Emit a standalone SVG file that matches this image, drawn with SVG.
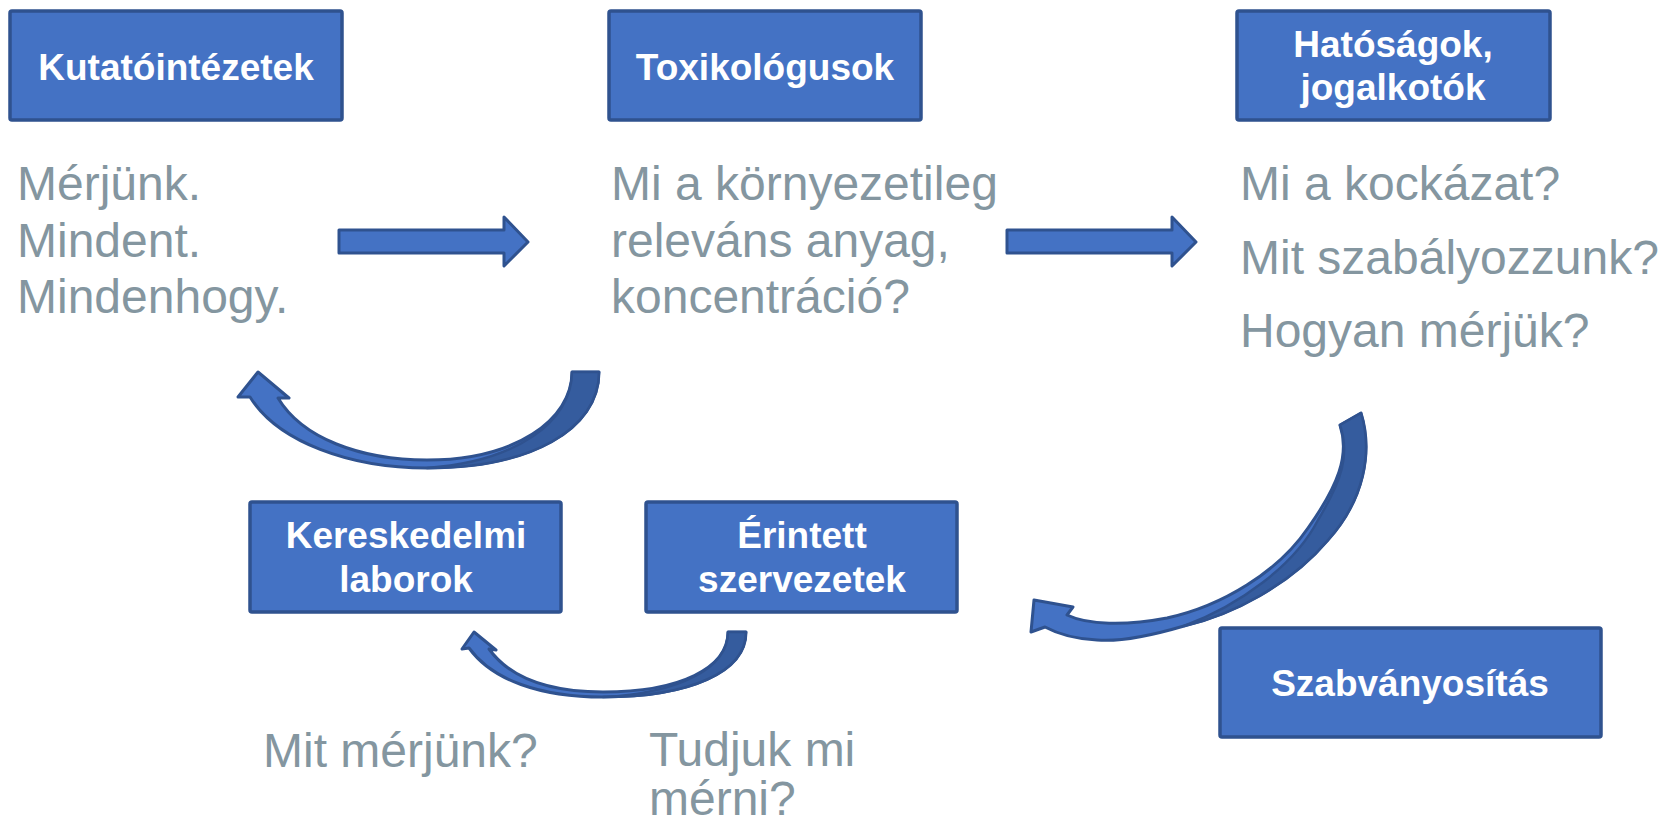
<svg xmlns="http://www.w3.org/2000/svg" width="1661" height="827" viewBox="0 0 1661 827">
<style>
.box{fill:#4472C4;stroke:#2F528F;stroke-width:3.5}
.lbl{font-family:"Liberation Sans",Arial,sans-serif;font-weight:bold;font-size:37px;fill:#FFFFFF;text-anchor:middle}
.q{font-family:"Liberation Sans",Arial,sans-serif;font-size:48px;fill:#8496A0}
.arr{fill:#4472C4;stroke:#2F528F;stroke-width:3;stroke-linejoin:round}
.shade{fill:#355C9E;stroke:#2F528F;stroke-width:2.5;stroke-linejoin:round}
</style>
<rect width="1661" height="827" fill="#FFFFFF"/>
<g id="kutatointezetek">
<rect class="box" x="10" y="11" width="332" height="109" rx="2"/>
<text class="lbl" x="176" y="80">Kutatóintézetek</text>
</g>
<g id="toxikologusok">
<rect class="box" x="609" y="11" width="312" height="109" rx="2"/>
<text class="lbl" x="765" y="80">Toxikológusok</text>
</g>
<g id="hatosagok">
<rect class="box" x="1237" y="11" width="313" height="109" rx="2"/>
<text class="lbl" x="1393" y="57">Hatóságok,</text>
<text class="lbl" x="1393" y="100">jogalkotók</text>
</g>
<g id="kereskedelmi">
<rect class="box" x="250" y="502" width="311" height="110" rx="2"/>
<text class="lbl" x="406" y="548">Kereskedelmi</text>
<text class="lbl" x="406" y="592">laborok</text>
</g>
<g id="erintett">
<rect class="box" x="646" y="502" width="311" height="110" rx="2"/>
<text class="lbl" x="802" y="548">Érintett</text>
<text class="lbl" x="802" y="592">szervezetek</text>
</g>
<g id="szabvanyositas">
<rect class="box" x="1220" y="628" width="381" height="109" rx="2"/>
<text class="lbl" x="1410" y="696">Szabványosítás</text>
</g>
<g id="texts">
<text class="q" x="17" y="200">Mérjünk.</text>
<text class="q" x="17" y="257">Mindent.</text>
<text class="q" x="17" y="313">Mindenhogy.</text>
<text class="q" x="611" y="200">Mi a környezetileg</text>
<text class="q" x="611" y="257">releváns anyag,</text>
<text class="q" x="611" y="313">koncentráció?</text>
<text class="q" x="1240" y="200">Mi a kockázat?</text>
<text class="q" x="1240" y="274">Mit szabályozzunk?</text>
<text class="q" x="1240" y="347">Hogyan mérjük?</text>
<text class="q" x="263" y="767">Mit mérjünk?</text>
<text class="q" x="649" y="766">Tudjuk mi</text>
<text class="q" x="649" y="815">mérni?</text>
</g>
<g id="connectors">
<path class="arr" d="M339,230 L504,230 L504,217 L528,242 L504,266 L504,253 L339,253 Z"/>
<path class="arr" d="M1007,230 L1172,230 L1172,217 L1196,242 L1172,266 L1172,253 L1007,253 Z"/>
<path class="arr" d="M572,372 L599,372 C599,430 530,468 427,468 C350,468 278,442 250,397 L238,397 L258,372 L289,398 L278,398 C302,438 360,460 427,460 C515,460 572,420 572,372 Z"/>
<path class="shade" d="M572,372 L599,372 C599,430 530,468 427,468 C515,462 572,422 572,372 Z"/>
<path class="arr" d="M728,632 L746,632 C746,672 690,697 603,697 C540,697 492,680 469,648 L462,649 L474,632 L496,650 L489,649 C510,678 550,692 603,692 C680,692 728,668 728,632 Z"/>
<path class="shade" d="M728,632 L746,632 C746,672 690,697 603,697 C680,693 728,668 728,632 Z"/>
<path class="arr" d="M1340,425 L1361,413 C1373,452 1364,500 1328,540 C1290,585 1232,615 1184,626 C1150,636 1120,642 1097,640 C1075,639 1058,634 1045,627 L1031,632 L1034,600 L1073,607 L1067,615 C1088,625 1125,626 1167,618 C1222,606 1278,572 1308,528 C1338,486 1350,455 1340,425 Z"/>
<path class="shade" d="M1340,425 L1361,413 C1373,452 1364,500 1328,540 C1290,585 1232,615 1184,626 C1240,605 1295,565 1318,520 C1342,480 1350,455 1340,425 Z"/>
</g>
</svg>
